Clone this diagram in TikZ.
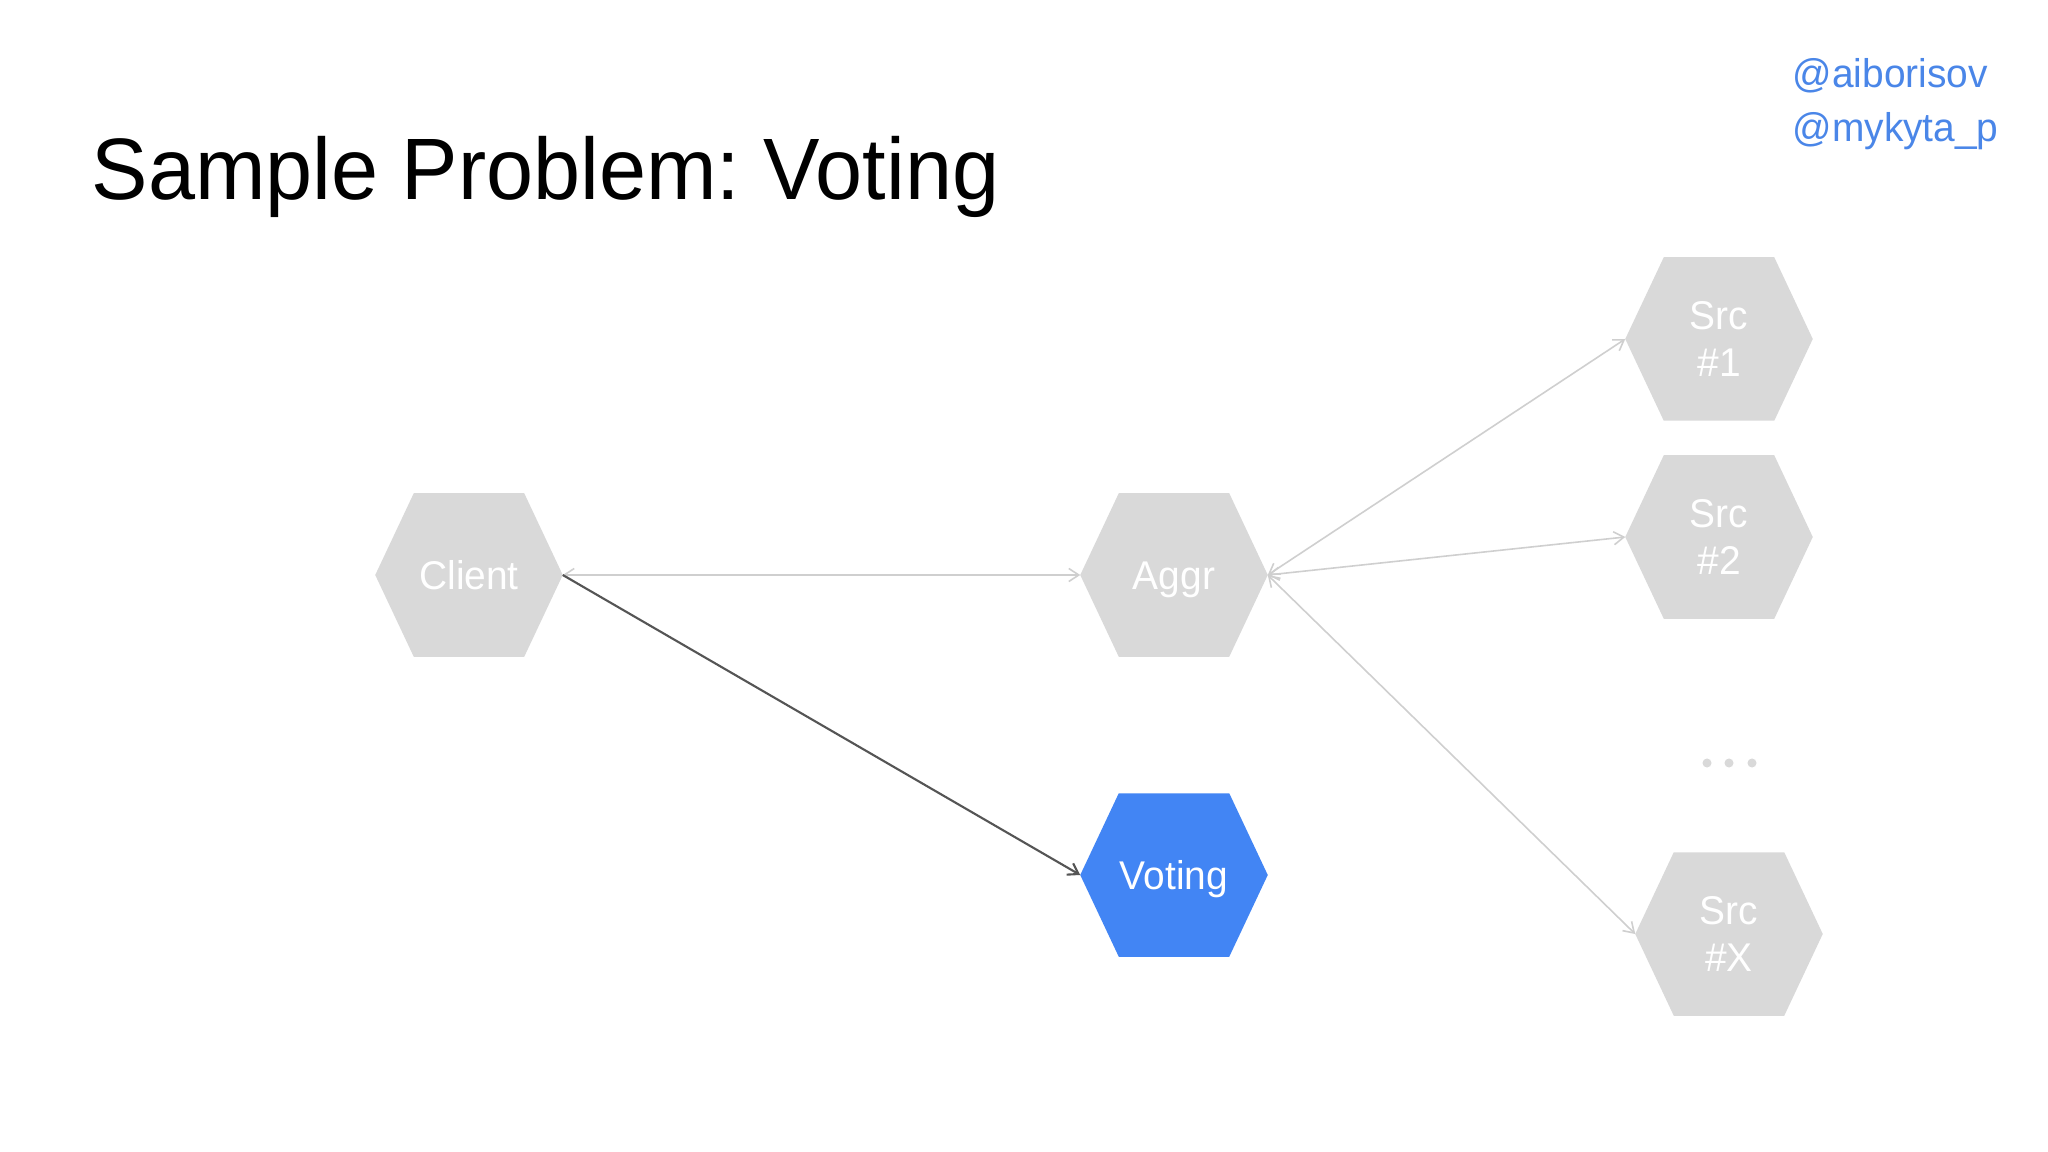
\documentclass[tikz,border=0pt]{standalone}
\usepackage{fontspec}
\setmainfont{Liberation Sans}[FakeStretch=0.97]
\usepackage{xcolor}
\usetikzlibrary{arrows.meta,backgrounds}
\frenchspacing
\definecolor{hexgray}{HTML}{D9D9D9}
\definecolor{voteblue}{HTML}{4285F4}
\definecolor{handleblue}{HTML}{4A86E8}
\definecolor{linkgray}{HTML}{CFCFCF}
\definecolor{darklink}{HTML}{555555}
\tikzset{>={Straight Barb[length=1mm,width=1.3mm]}}
\tikzset{hexbox/.style={minimum width=1.86cm, minimum height=1.62cm, inner sep=0pt,
  text=white, font=\fontsize{11.4pt}{13.4pt}\selectfont, align=center,
  text height=0.28cm, text depth=0cm}}
\tikzset{srcbox/.style={hexbox, text height=0.75cm, text depth=0cm}}
\tikzset{handle/.style={anchor=base west, inner sep=0pt, text=handleblue, font=\fontsize{11.4pt}{14pt}\selectfont}}
\tikzset{lightlink/.style={draw=linkgray, line width=0.45pt, <->}}
\tikzset{darklinkstyle/.style={draw=darklink, line width=0.6pt, ->}}

\begin{document}
\begin{tikzpicture}[x=0.01cm,y=-0.01cm]
\useasboundingbox (0,0) rectangle (2048,1152);
\node[anchor=base west, inner sep=0pt, font=\fontsize{24.8pt}{28pt}\selectfont] (title) at (91,200) {Sample Problem: Voting};
\node[handle] (h1) at (1792,88) {@aiborisov};
\node[handle] (h2) at (1792,142) {@mykyta\_p};

\node[hexbox] (client) at (469,575) {Client};
\node[hexbox] (aggr) at (1174,575) {Aggr};
\node[hexbox] (voting) at (1174,875) {Voting};
\node[srcbox] (src1) at (1719,339) {Src\\\#1};
\node[srcbox] (src2) at (1719,537) {Src\\\#2};
\node[srcbox] (srcx) at (1729,934) {Src\\\#X};

\begin{scope}[on background layer]
\fill[white] (0,0) rectangle (2048,1152);
\foreach \n/\c in {client/hexgray,aggr/hexgray,voting/voteblue,src1/hexgray,src2/hexgray,srcx/hexgray}
  \fill[\c] (\n.west) -- ([xshift=0.385cm]\n.north west) -- ([xshift=-0.385cm]\n.north east)
    -- (\n.east) -- ([xshift=-0.385cm]\n.south east) -- ([xshift=0.385cm]\n.south west) -- cycle;
\end{scope}

\foreach \x in {1707,1729,1752}
  \fill[hexgray] (\x,763) circle (0.045cm);

\draw[lightlink] (client.east) -- (aggr.west);
\draw[darklinkstyle] (client.east) -- (voting.west);
\draw[lightlink] (aggr.east) -- (src1.west);
\draw[lightlink] (aggr.east) -- (src2.west);
\draw[lightlink] (aggr.east) -- (srcx.west);
\end{tikzpicture}
\end{document}
